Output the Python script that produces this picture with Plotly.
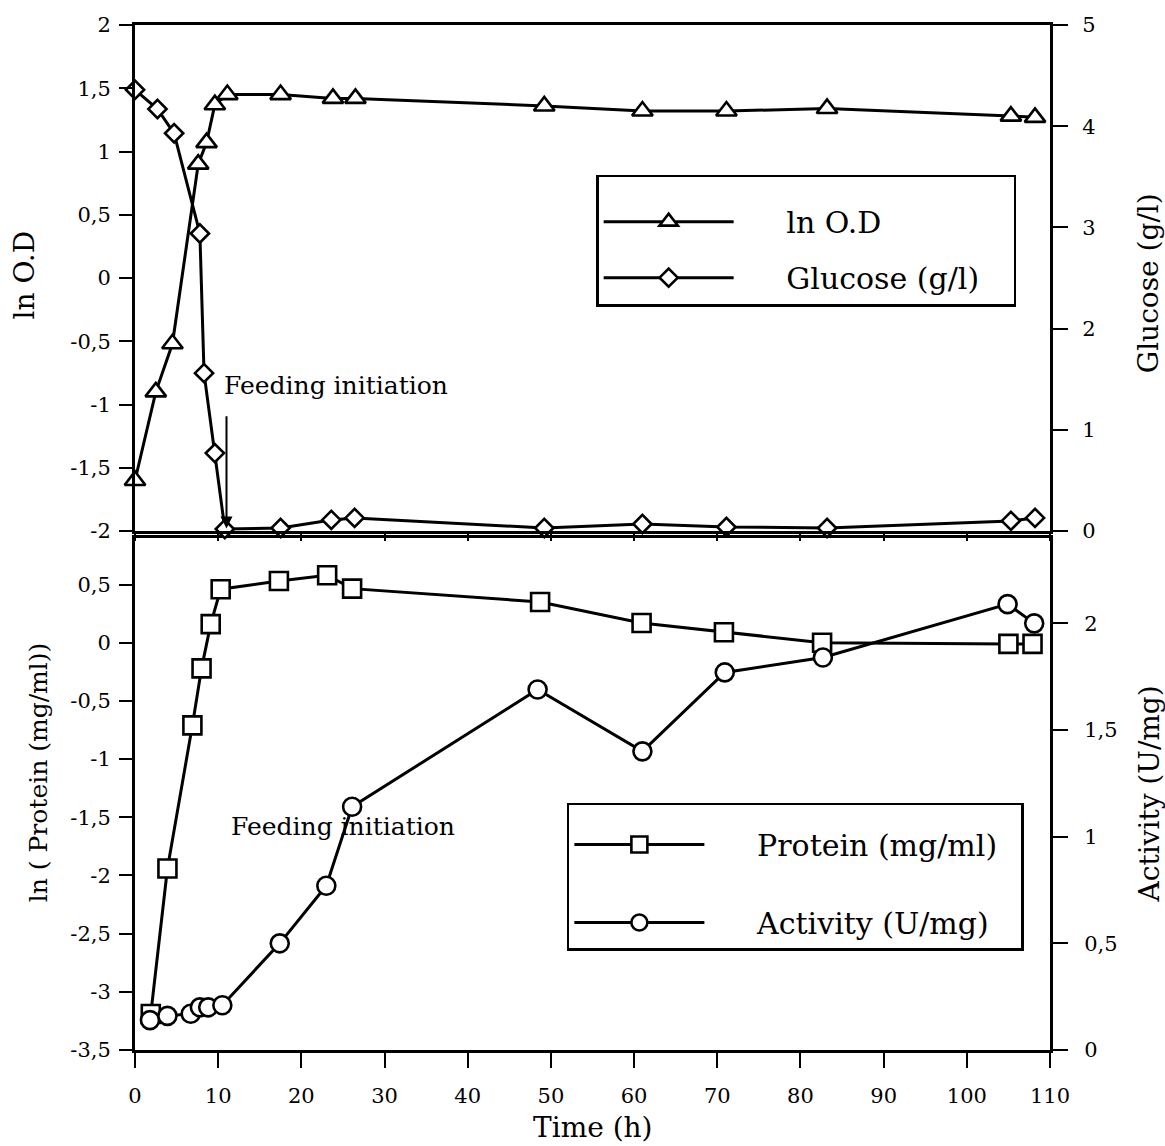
import plotly.graph_objects as go

# ---- fermentation time course (h) ----
od_time = [0, 2.5, 4.5, 7.6, 8.6, 9.6, 11.1, 17.5, 23.8, 26.5, 49.2, 61.0, 71.1, 83.2, 105.3, 108.2]
ln_od = [-1.60, -0.90, -0.52, 0.90, 1.07, 1.37, 1.45, 1.45, 1.42, 1.42, 1.36, 1.32, 1.32, 1.34, 1.28, 1.27]

glc_time = [0, 2.7, 4.7, 7.8, 8.3, 9.6, 10.8, 17.5, 23.6, 26.4, 49.2, 61.0, 71.1, 83.2, 105.3, 108.2]
glucose = [4.36, 4.17, 3.93, 2.94, 1.56, 0.77, 0.02, 0.03, 0.11, 0.13, 0.03, 0.07, 0.04, 0.03, 0.10, 0.13]

prot_time = [1.9, 3.9, 6.9, 8.0, 9.1, 10.3, 17.3, 23.1, 26.1, 48.7, 60.9, 70.8, 82.6, 105.0, 107.9]
ln_protein = [-3.19, -1.94, -0.71, -0.22, 0.16, 0.46, 0.53, 0.58, 0.465, 0.35, 0.17, 0.09, 0.0, -0.01, -0.01]

act_time = [1.8, 3.9, 6.7, 7.8, 8.8, 10.5, 17.4, 23.0, 26.1, 48.4, 61.0, 70.9, 82.7, 104.9, 108.1]
activity = [0.14, 0.16, 0.17, 0.20, 0.20, 0.21, 0.50, 0.77, 1.14, 1.69, 1.40, 1.77, 1.84, 2.09, 2.00]

feed_time = 11.0

# ---- tick values and labels (comma decimal separator) ----
x_ticks = [0, 10, 20, 30, 40, 50, 60, 70, 80, 90, 100, 110]
od_ticks = [-2, -1.5, -1, -0.5, 0, 0.5, 1, 1.5, 2]
od_labels = ["-2", "-1,5", "-1", "-0,5", "0", "0,5", "1", "1,5", "2"]
glc_ticks = [0, 1, 2, 3, 4, 5]
glc_labels = ["0", "1", "2", "3", "4", "5"]
prot_ticks = [-3.5, -3, -2.5, -2, -1.5, -1, -0.5, 0, 0.5]
prot_labels = ["-3,5", "-3", "-2,5", "-2", "-1,5", "-1", "-0,5", "0", "0,5"]
act_ticks = [0, 0.5, 1, 1.5, 2]
act_labels = ["0", "0,5", "1", "1,5", "2"]

FONT = "DejaVu Serif"
INK = "black"
LW = 3.0
NB = "\u00a0"


def series(x, y, name, symbol, size, xa, ya, legend, tail):
    return go.Scatter(
        x=x, y=y, name=NB * 5 + name + NB * tail, xaxis=xa, yaxis=ya,
        mode="lines+markers",
        line=dict(color=INK, width=LW),
        marker=dict(symbol=symbol, size=size, color="white",
                    line=dict(color=INK, width=2.6)),
        cliponaxis=False, legend=legend, legendgroup=name,
    )


fig = go.Figure()
fig.add_trace(series(od_time, ln_od, "ln O.D", "triangle-up", 18, "x2", "y3", "legend", 3))
fig.add_trace(series(glc_time, glucose, "Glucose (g/l)", "diamond", 14, "x2", "y4", "legend", 3))
fig.add_trace(series(prot_time, ln_protein, "Protein (mg/ml)", "square", 18, "x", "y", "legend2", 2))
fig.add_trace(series(act_time, activity, "Activity (U/mg)", "circle", 18, "x", "y2", "legend2", 2))

tickfont = dict(family=FONT, size=21, color=INK)
axis_common = dict(showgrid=False, zeroline=False, showline=True, linecolor=INK,
                   linewidth=LW, ticks="outside", tickcolor=INK, tickwidth=2.4,
                   tickfont=tickfont)

top_dom = [0.5063, 1.0]
bot_dom = [0.0, 0.4995]

legend_font = dict(family=FONT, size=30, color=INK)

fig.update_layout(
    width=1165, height=1146, autosize=False,
    margin=dict(l=135, r=115, t=25, b=96),
    paper_bgcolor="white", plot_bgcolor="white",
    font=dict(family=FONT, color=INK),
    showlegend=True,
    xaxis=dict(axis_common, domain=[0, 1], anchor="y", range=[0, 110],
               tickvals=x_ticks, ticktext=[str(v) for v in x_ticks],
               ticklen=15, mirror=True, ticklabelstandoff=10),
    xaxis2=dict(axis_common, domain=[0, 1], anchor="y3", range=[0, 110],
                matches="x", tickvals=x_ticks, showticklabels=False,
                ticklen=7, mirror=True),
    yaxis=dict(axis_common, domain=bot_dom, anchor="x", range=[-3.5, 0.9],
               tickvals=prot_ticks, ticktext=prot_labels, ticklen=13,
               ticklabelstandoff=4),
    yaxis2=dict(axis_common, overlaying="y", side="right", anchor="x",
                range=[0, 2.4], tickvals=act_ticks, ticktext=act_labels,
                ticklen=15, ticklabelstandoff=12),
    yaxis3=dict(axis_common, domain=top_dom, anchor="x2", range=[-2, 2],
                tickvals=od_ticks, ticktext=od_labels, ticklen=13,
                ticklabelstandoff=4),
    yaxis4=dict(axis_common, overlaying="y3", side="right", anchor="x2",
                range=[0, 5], tickvals=glc_ticks, ticktext=glc_labels,
                ticklen=15, ticklabelstandoff=10),
    legend=dict(x=0.504, y=0.8537, xanchor="left", yanchor="top",
                bordercolor=INK, borderwidth=2.5, bgcolor="white",
                font=legend_font, itemwidth=130, tracegroupgap=14,
                traceorder="grouped",
                title=dict(text=NB, font=dict(family=FONT, size=14))),
    legend2=dict(x=0.472, y=0.241, xanchor="left", yanchor="top",
                 bordercolor=INK, borderwidth=2.5, bgcolor="white",
                 font=legend_font, itemwidth=130, tracegroupgap=36,
                 traceorder="grouped",
                 title=dict(text=NB, font=dict(family=FONT, size=10))),
)

title_font = dict(family=FONT, size=28, color=INK)
mid = dict(xref="paper", yref="paper", showarrow=False,
           xanchor="center", yanchor="middle")
annotations = [
    dict(mid, text="Time (h)", x=0.5, y=-0.076, font=title_font),
    dict(mid, text="ln O.D", x=-0.121, y=0.756, font=title_font, textangle=-90),
    dict(mid, text="Glucose (g/l)", x=1.107, y=0.748, font=title_font, textangle=-90),
    dict(mid, text="ln ( Protein (mg/ml))", x=-0.106, y=0.271,
         font=dict(title_font, size=25), textangle=-90),
    dict(mid, text="Activity (U/mg)", x=1.109, y=0.25, font=title_font, textangle=-90),
    # feeding start, upper panel (with arrow down to the time axis)
    dict(text="Feeding initiation", x=10.5, y=-0.85, xref="x2", yref="y3",
         showarrow=False, xanchor="left", yanchor="middle",
         font=dict(family=FONT, size=25, color=INK)),
    dict(text="", x=feed_time, y=-1.98, xref="x2", yref="y3",
         ax=feed_time, ay=-1.08, axref="x2", ayref="y3",
         showarrow=True, arrowhead=2, arrowsize=1.2, arrowwidth=2,
         arrowcolor=INK),
    # feeding start, lower panel
    dict(text="Feeding initiation", x=11.3, y=-1.58, xref="x", yref="y",
         showarrow=False, xanchor="left", yanchor="middle",
         font=dict(family=FONT, size=25, color=INK)),
]
fig.update_layout(annotations=annotations)

fig.write_html("out.html")
